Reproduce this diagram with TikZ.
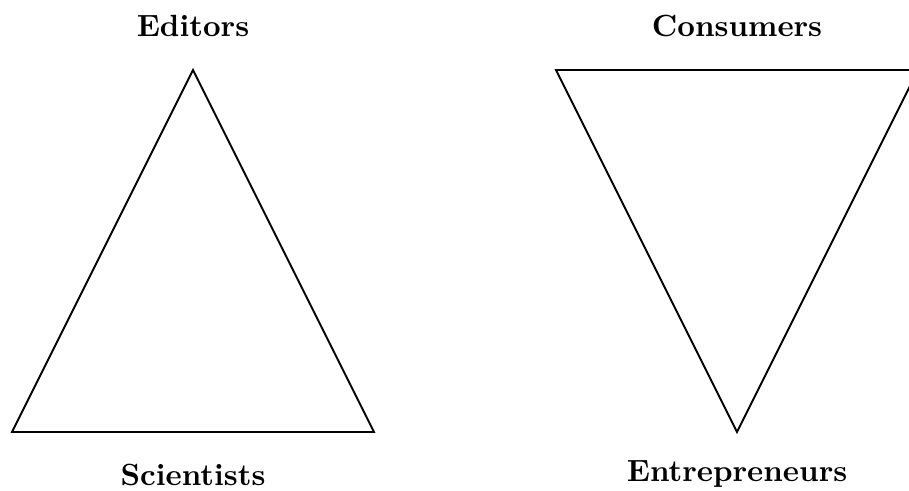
\documentclass[tikz,border=0pt]{standalone}
\begin{document}
\begin{tikzpicture}[x=0.326pt,y=-0.326pt, semithick,
		role/.style={font=\bfseries, inner sep=0pt}]
	\useasboundingbox (0,0) rectangle (909,490);
	
	% left triangle
	\coordinate (edtop) at (193,70);
	\coordinate (scileft) at (12,432);
	\coordinate (sciright) at (374,432);
	\draw (edtop) -- (scileft) -- (sciright) -- cycle;
	
	% right triangle, upside down
	\coordinate (conleft) at (556,70);
	\coordinate (conright) at (918,70);
	\coordinate (entbot) at (737,432);
	\draw (conleft) -- (conright) -- (entbot) -- cycle;
	
	\node[role, anchor=base] (editors) at (193,36) {Editors};
	\node[role, anchor=base] (consumers) at (737,36) {Consumers};
	\node[role, anchor=base] (scientists) at (193,485) {Scientists};
	\node[role, anchor=base] (entrepreneurs) at (737,481) {Entrepreneurs};
\end{tikzpicture}
\end{document}
